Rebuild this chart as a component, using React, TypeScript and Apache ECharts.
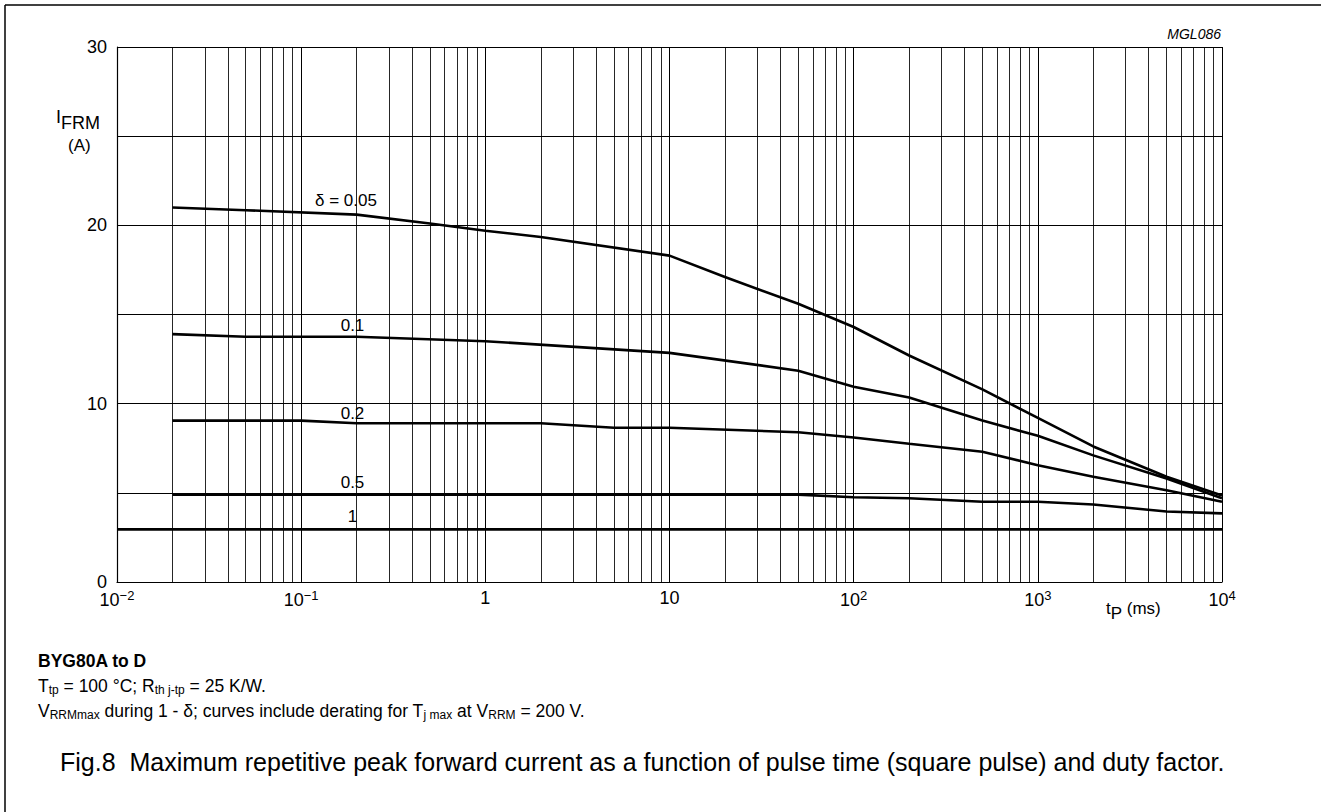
import React, { useEffect, useRef } from "react";
import * as echarts from "echarts";

// ---- data ----
const delta005: [number, number][] = [
  [0.02, 21.0], [0.05, 20.85], [0.2, 20.6], [0.5, 20.1], [1, 19.7], [2, 19.35],
  [10, 18.3], [20, 17.1], [50, 15.6], [100, 14.3], [200, 12.7], [500, 10.8],
  [1000, 9.2], [2000, 7.6], [5000, 5.9], [10000, 4.85],
];
const delta01: [number, number][] = [
  [0.02, 13.9], [0.05, 13.75], [0.2, 13.75], [1, 13.5], [10, 12.85], [50, 11.85],
  [100, 10.95], [200, 10.35], [500, 9.05], [1000, 8.2], [2000, 7.1], [5000, 5.8],
  [10000, 4.7],
];
const delta02: [number, number][] = [
  [0.02, 9.05], [0.1, 9.05], [0.2, 8.9], [2, 8.9], [5, 8.65], [10, 8.65],
  [50, 8.4], [100, 8.1], [200, 7.75], [500, 7.3], [1000, 6.55], [2000, 5.9],
  [5000, 5.15], [10000, 4.5],
];
const delta05: [number, number][] = [
  [0.02, 4.9], [50, 4.9], [100, 4.75], [200, 4.7], [500, 4.5], [1000, 4.5],
  [2000, 4.35], [5000, 3.95], [10000, 3.85],
];
const delta1: [number, number][] = [[0.01, 2.95], [10000, 2.95]];

const curveLabels = ["δ = 0.05", "0.1", "0.2", "0.5", "1"];
const labelPos: [number, number][] = [
  [0.175, 21.4], [0.19, 14.4], [0.19, 9.45], [0.19, 5.6], [0.19, 3.65],
];

const decades = [-2, -1, 0, 1, 2, 3];
const minorMultipliers = [2, 3, 4, 5, 6, 7, 8, 9];
const yTickLabels = [0, 10, 20, 30];

const FONT = "'Liberation Sans', Arial, Helvetica, sans-serif";

export default function App() {
  const ref = useRef<HTMLDivElement>(null);
  useEffect(() => {
    if (!ref.current) return;
    const chart = echarts.init(ref.current, null, { renderer: "svg" });

    const minorX: number[] = [];
    decades.forEach((d) =>
      minorMultipliers.forEach((m) => minorX.push(parseFloat((m * Math.pow(10, d)).toPrecision(6))))
    );

    const curves = [delta005, delta01, delta02, delta05, delta1];

    const series: any[] = curves
      .slice()
      .reverse()
      .map((data, ri) => {
        const i = curves.length - 1 - ri;
        return {
          type: "line",
          data,
          showSymbol: false,
          symbol: "none",
          lineStyle: { color: "#000", width: 2.6 },
          itemStyle: { color: "#000" },
          silent: true,
          z: 5,
          markPoint: {
            symbol: "circle",
            symbolSize: 0,
            silent: true,
            label: {
              show: true,
              position: "inside",
              formatter: curveLabels[i],
              color: "#000",
              fontSize: 17,
              fontFamily: FONT,
            },
            data: [{ coord: labelPos[i] }],
          },
        };
      });

    series.unshift({
      type: "line",
      data: [],
      silent: true,
      z: 1,
      markLine: {
        silent: true,
        symbol: ["none", "none"],
        label: { show: false },
        lineStyle: { color: "#000", width: 1, type: "solid", opacity: 0.85 },
        emphasis: { disabled: true },
        data: minorX.map((v) => ({ xAxis: v })),
      },
    });

    const TB = 17.5; // text block font size
    const TBS = 12;
    const TX = 38;

    chart.setOption({
      animation: false,
      backgroundColor: "#fff",
      grid: { left: 117, right: 103, top: 47, bottom: 230, containLabel: false },
      xAxis: {
        type: "log",
        logBase: 10,
        min: 0.01,
        max: 10000,
        axisLine: { show: true, lineStyle: { color: "#000", width: 1.2 } },
        axisTick: { show: false },
        splitLine: { show: true, lineStyle: { color: "#000", width: 1 } },
        axisLabel: {
          color: "#000",
          fontSize: 18,
          fontFamily: FONT,
          margin: 7,
          formatter: (v: number) => {
            const e = Math.round(Math.log10(v));
            if (e === 0) return "1";
            if (e === 1) return "10";
            return `{b|10}{s|${e < 0 ? "−" : ""}${Math.abs(e)}}`;
          },
          rich: {
            b: { fontSize: 18, fontFamily: FONT, color: "#000" },
            s: { fontSize: 13, fontFamily: FONT, color: "#000", padding: [0, 0, 9, 0] },
          },
        },
      },
      yAxis: {
        type: "value",
        min: 0,
        max: 30,
        interval: 5,
        axisLine: { show: true, lineStyle: { color: "#000", width: 1.2 } },
        axisTick: { show: false },
        splitLine: { show: true, lineStyle: { color: "#000", width: 1 } },
        axisLabel: {
          color: "#000",
          fontSize: 18,
          fontFamily: FONT,
          margin: 10,
          formatter: (v: number) => (yTickLabels.indexOf(v) >= 0 ? String(v) : ""),
        },
      },
      series,
      graphic: [
        { type: "line", shape: { x1: 5, y1: 5, x2: 1321, y2: 5 }, style: { stroke: "#000", lineWidth: 1.5 } },
        { type: "line", shape: { x1: 5, y1: 5, x2: 5, y2: 812 }, style: { stroke: "#000", lineWidth: 1.5 } },
        {
          type: "text",
          right: 104,
          top: 27,
          style: { text: "MGL086", font: `italic 14px ${FONT}`, fill: "#000" },
        },
        {
          type: "text",
          left: 56,
          top: 108,
          style: {
            text: "{a|I}{b|FRM}",
            rich: {
              a: { fontSize: 18, fontFamily: FONT, color: "#000" },
              b: { fontSize: 18, fontFamily: FONT, color: "#000", padding: [11, 0, 0, 0] },
            },
          },
        },
        {
          type: "text",
          left: 68,
          top: 137,
          style: { text: "(A)", font: `17px ${FONT}`, fill: "#000" },
        },
        {
          type: "text",
          left: 1106,
          top: 600,
          style: {
            text: "{a|t}{b|P}{a| (ms)}",
            rich: {
              a: { fontSize: 17, fontFamily: FONT, color: "#000" },
              b: { fontSize: 17, fontFamily: FONT, color: "#000", padding: [9, 0, 0, 0] },
            },
          },
        },
        {
          type: "text",
          left: TX,
          top: 652,
          style: { text: "BYG80A to D", font: `bold ${TB}px ${FONT}`, fill: "#000" },
        },
        {
          type: "text",
          left: TX,
          top: 677,
          style: {
            text: "{a|T}{b|tp}{a| = 100 °C; R}{b|th j-tp}{a| = 25 K/W.}",
            rich: { a: { fontSize: TB, fontFamily: FONT, color: "#000" }, b: { fontSize: TBS, fontFamily: FONT, color: "#000", padding: [7, 0, 0, 0] } },
          },
        },
        {
          type: "text",
          left: TX,
          top: 702,
          style: {
            text: "{a|V}{b|RRMmax}{a| during 1 - δ; curves include derating for T}{b|j max}{a| at V}{b|RRM}{a| = 200 V.}",
            rich: { a: { fontSize: TB, fontFamily: FONT, color: "#000" }, b: { fontSize: TBS, fontFamily: FONT, color: "#000", padding: [7, 0, 0, 0] } },
          },
        },
        {
          type: "text",
          left: 60,
          top: 749,
          style: {
            text: "Fig.8  Maximum repetitive peak forward current as a function of pulse time (square pulse) and duty factor.",
            font: `25px ${FONT}`,
            fill: "#000",
          },
        },
      ],
    });
    return () => chart.dispose();
  }, []);
  return (
    <div
      ref={ref}
      style={{ position: "fixed", left: 0, top: 0, width: 1325, height: 812, background: "#fff" }}
    />
  );
}
